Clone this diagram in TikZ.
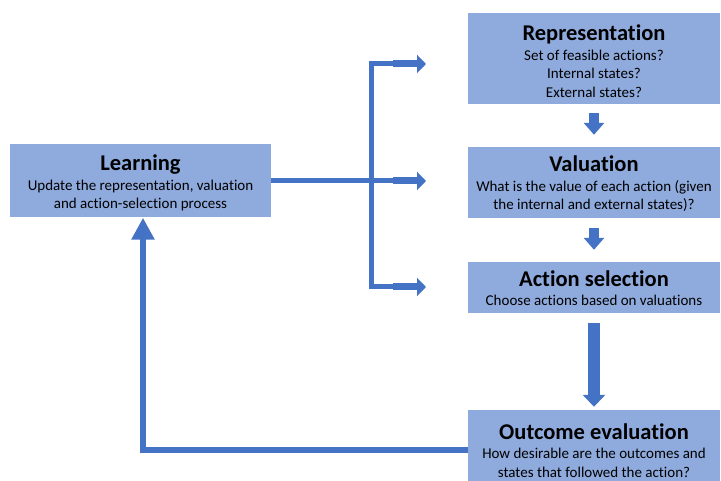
\documentclass[tikz,border=0pt]{standalone}
\usepackage{fontspec}
\setmainfont{Carlito}[Ligatures=NoCommon]
\usetikzlibrary{arrows.meta}
\definecolor{boxfill}{HTML}{8FAADC}
\definecolor{linecol}{HTML}{4472C4}
\newcommand{\ttlfont}{\fontsize{22.5}{25}\selectfont\bfseries}
\newcommand{\bodyfnt}{\fontsize{15}{18.5}\selectfont}
\begin{document}
\begin{tikzpicture}[x=1pt,y=-1pt,
  box/.style={fill=boxfill, inner sep=0pt, minimum width=252pt},
  txt/.style={align=center, font=\bodyfnt, inner sep=0pt},
  conn/.style={draw=linecol, line width=5pt, line join=miter},
  blockarrow/.style={draw=linecol, line width=7pt, -{Triangle[width=18pt,length=9pt]}},
  smallarrow/.style={draw=linecol, line width=10pt, -{Triangle[width=20pt,length=12pt]}},
  bigarrow/.style={draw=linecol, line width=12pt, -{Triangle[width=22pt,length=12pt]}},
  backarrow/.style={draw=linecol, line width=6pt, line join=miter, -{Triangle[width=22pt,length=22pt]}}]
\useasboundingbox (0,0) rectangle (721,481);
% boxes
\node[box, minimum width=261pt, minimum height=73pt] (learn) at (140.5,181) {};
\node[box, minimum height=91pt] (rep) at (594,58.5) {};
\node[box, minimum height=71pt] (val) at (594,182.5) {};
\node[box, minimum height=51pt] (act) at (594,287.5) {};
\node[box, minimum height=71pt] (out) at (594,445.5) {};
% texts
\node[txt] (learnt) at (140.5,183) {{\ttlfont Learning}\\[1pt] Update the representation, valuation\\ and action-selection process};
\node[txt] (rept) at (594,61) {{\ttlfont Representation}\\[1pt] Set of feasible actions?\\ Internal states?\\ External states?};
\node[txt] (valt) at (594,184) {{\ttlfont Valuation}\\[1pt] What is the value of each action (given\\ the internal and external states)?};
\node[txt] (actt) at (594,288) {{\ttlfont Action selection}\\[1pt] Choose actions based on valuations};
\node[txt] (outt) at (594,450.5) {{\ttlfont Outcome evaluation}\\[1pt] How desirable are the outcomes and\\ states that followed the action?};
% branch connector
\coordinate (j1) at (371.5,64);
\coordinate (j3) at (371.5,287);
\coordinate (a1) at (393,64);
\coordinate (a2) at (393,181);
\coordinate (a3) at (393,287);
\coordinate (t1) at (426,64);
\coordinate (t2) at (426,181);
\coordinate (t3) at (426,287);
\draw[conn] (a1) -- (j1) -- (j3) -- (a3);
\draw[conn] (learn.east) -- (a2);
\draw[blockarrow] (a1) -- (t1);
\draw[blockarrow] (a2) -- (t2);
\draw[blockarrow] (a3) -- (t3);
% down arrows
\draw[smallarrow, shorten <=9pt, shorten >=12pt] (rep.south) -- (val.north);
\draw[smallarrow, shorten <=10pt, shorten >=12pt] (val.south) -- (act.north);
\draw[bigarrow, shorten <=10pt, shorten >=3pt] (act.south) -- (out.north);
% feedback
\coordinate (f1) at (143,450);
\draw[backarrow] ([yshift=-4.5pt]out.west) -- (f1) -- (learn.south -| f1);
\end{tikzpicture}
\end{document}
